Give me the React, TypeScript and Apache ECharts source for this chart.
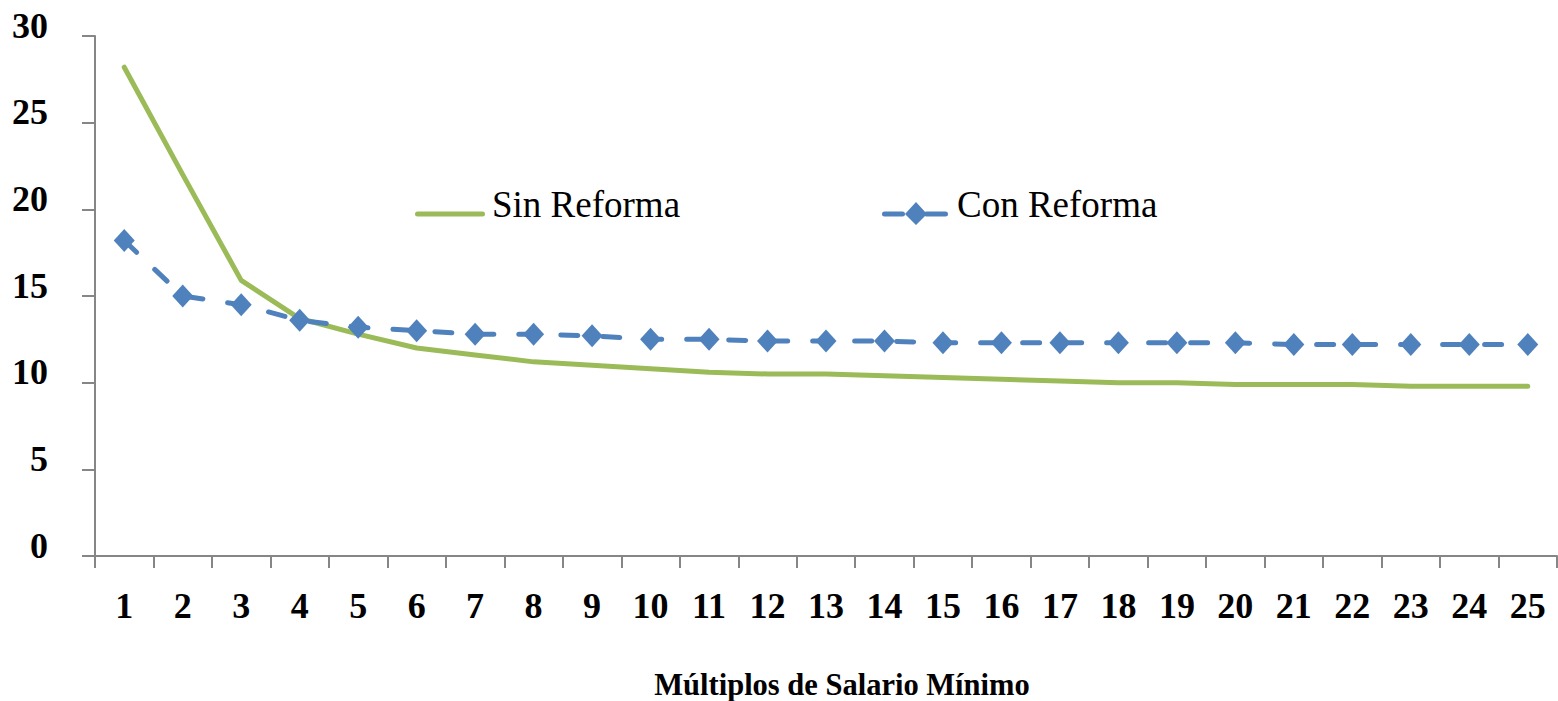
import React, { useEffect, useRef } from "react";
import * as echarts from "echarts";

const categories = [
  "1", "2", "3", "4", "5", "6", "7", "8", "9", "10", "11", "12", "13",
  "14", "15", "16", "17", "18", "19", "20", "21", "22", "23", "24", "25",
];

const sinReforma = [
  28.2, 22.0, 15.9, 13.7, 12.8, 12.0, 11.6, 11.2, 11.0, 10.8, 10.6, 10.5, 10.5,
  10.4, 10.3, 10.2, 10.1, 10.0, 10.0, 9.9, 9.9, 9.9, 9.8, 9.8, 9.8,
];

const conReforma = [
  18.2, 15.0, 14.5, 13.6, 13.2, 13.0, 12.8, 12.8, 12.7, 12.5, 12.5, 12.4, 12.4,
  12.4, 12.3, 12.3, 12.3, 12.3, 12.3, 12.3, 12.2, 12.2, 12.2, 12.2, 12.2,
];

const seriesNames = ["Sin Reforma", "Con Reforma"];
const xAxisTitle = "Múltiplos de Salario Mínimo";

const FONT = "'Liberation Serif', 'Times New Roman', serif";
const GREEN = "#9BBB59";
const BLUE = "#4F81BD";
const AXIS = "#868686";

// Legend icons (drawn slightly below the text centre, as in the reference)
const GREEN_ICON =
  "path://M0,0 L0.01,0 L0,0.01 Z M70,42 L69.99,42 L70,41.99 Z " +
  "M2.5,28.5 L67.5,28.5 A2.5,2.5 0 0 1 67.5,33.5 L2.5,33.5 A2.5,2.5 0 0 1 2.5,28.5 Z";
const BLUE_ICON =
  "path://M0,0 L0.01,0 L0,0.01 Z M66,42 L65.99,42 L66,41.99 Z " +
  "M2.5,28.5 L20.5,28.5 A2.5,2.5 0 0 1 20.5,33.5 L2.5,33.5 A2.5,2.5 0 0 1 2.5,28.5 Z " +
  "M34,19 L45,31 L34,42 L23,31 Z " +
  "M44.5,28.5 L63.5,28.5 A2.5,2.5 0 0 1 63.5,33.5 L44.5,33.5 A2.5,2.5 0 0 1 44.5,28.5 Z";

export default function App() {
  const ref = useRef<HTMLDivElement>(null);

  useEffect(() => {
    if (!ref.current) return;
    const chart = echarts.init(ref.current, undefined, { renderer: "svg" });
    chart.setOption({
      animation: false,
      backgroundColor: "#ffffff",
      textStyle: { fontFamily: FONT },
      grid: {
        left: 95,
        right: 1,
        top: 36,
        bottom: 145,
        containLabel: false,
        outerBoundsMode: "none",
      },
      legend: [
        {
          data: [{ name: seriesNames[0], icon: GREEN_ICON }],
          left: 410,
          top: 178,
          itemWidth: 70,
          itemHeight: 42,
          itemStyle: { color: GREEN, borderWidth: 0 },
          textStyle: { fontFamily: FONT, fontSize: 37, color: "#000", padding: [0, 0, 0, 2] },
        },
        {
          data: [{ name: seriesNames[1], icon: BLUE_ICON }],
          left: 877,
          top: 178,
          itemWidth: 66,
          itemHeight: 42,
          itemStyle: { color: BLUE, borderWidth: 0 },
          textStyle: { fontFamily: FONT, fontSize: 37, color: "#000", padding: [0, 0, 0, 4] },
        },
      ],
      xAxis: {
        type: "category",
        data: categories,
        boundaryGap: true,
        axisLine: { show: true, lineStyle: { color: AXIS, width: 2 } },
        axisTick: {
          show: true,
          interval: 0,
          length: 12,
          lineStyle: { color: AXIS, width: 2 },
        },
        axisLabel: {
          interval: 0,
          margin: 32,
          fontFamily: FONT,
          fontWeight: "bold",
          fontSize: 36,
          color: "#000",
        },
        splitLine: { show: false },
        name: xAxisTitle,
        nameLocation: "middle",
        nameGap: 113,
        nameTextStyle: {
          fontFamily: FONT,
          fontWeight: "bold",
          fontSize: 30.5,
          color: "#000",
          padding: [0, 0, 0, 32],
        },
      },
      yAxis: {
        type: "value",
        min: 0,
        max: 30,
        interval: 5,
        axisLine: { show: true, lineStyle: { color: AXIS, width: 2 } },
        axisTick: { show: true, length: 13, lineStyle: { color: AXIS, width: 2 } },
        axisLabel: {
          margin: 47,
          fontFamily: FONT,
          fontWeight: "bold",
          fontSize: 36,
          color: "#000",
          verticalAlign: "bottom",
          lineHeight: 21,
        },
        splitLine: { show: false },
      },
      series: [
        {
          name: seriesNames[0],
          type: "line",
          data: sinReforma,
          showSymbol: false,
          symbol: "none",
          lineStyle: { color: GREEN, width: 5, cap: "round", join: "round" },
          itemStyle: { color: GREEN },
        },
        {
          name: seriesNames[1],
          type: "line",
          data: conReforma,
          symbol: "diamond",
          symbolSize: [21, 23],
          lineStyle: {
            color: BLUE,
            width: 5,
            type: [17, 25],
            cap: "round",
            join: "round",
          },
          itemStyle: { color: BLUE },
        },
      ],
    });
    return () => chart.dispose();
  }, []);

  return (
    <div
      ref={ref}
      style={{ position: "absolute", left: 0, top: 0, width: 1558, height: 701 }}
    />
  );
}
